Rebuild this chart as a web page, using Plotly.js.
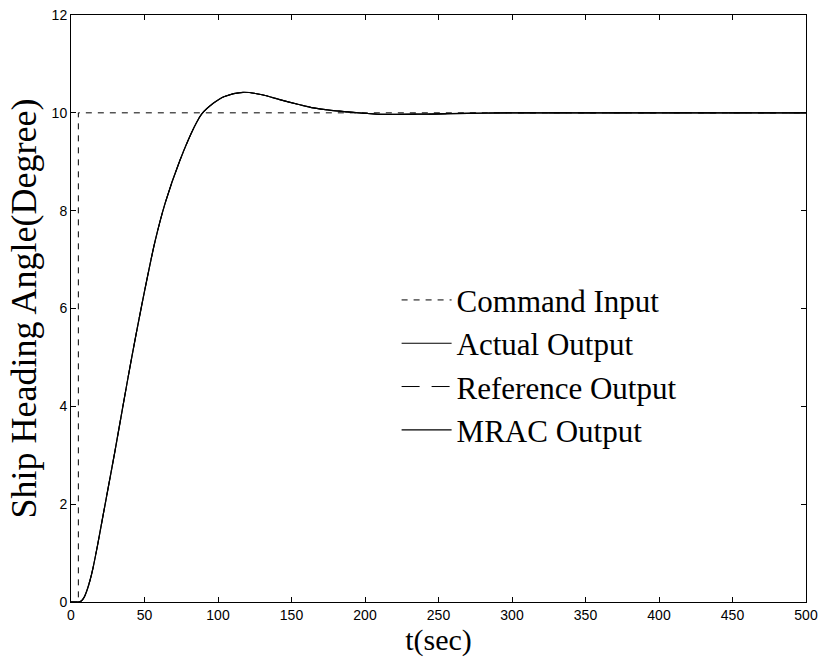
<!DOCTYPE html>
<html>
<head>
<meta charset="utf-8">
<script src="https://cdn.plot.ly/plotly-3.0.1.min.js"></script>
<style>html,body{margin:0;padding:0;background:#fff;}#chart{width:819px;height:659px;}</style>
</head>
<body>
<div id="chart"></div>
<script>
// Command input (step at t = 5 s)
const cmdT = [0, 5, 5, 500];
const cmdY = [0, 0, 10, 10];

// Response time base (s)
const respT = [0, 5, 7, 9, 11, 13, 15, 18, 22, 26, 30, 35, 41, 48, 57, 64, 74, 84, 89, 97, 104, 117, 130, 142, 155, 165, 177, 188, 200, 210, 225, 245, 270, 300, 350, 400, 450, 500];

// Actual output (deg)
const actualY = [0, 0, 0.02, 0.1, 0.25, 0.45, 0.7, 1.15, 1.8, 2.45, 3.1, 3.95, 4.95, 6.05, 7.35, 8.15, 9.02, 9.72, 9.98, 10.2, 10.33, 10.42, 10.37, 10.27, 10.17, 10.1, 10.05, 10.02, 9.99, 9.97, 9.97, 9.975, 9.99, 10.0, 10.0, 10.0, 10.0, 10.0];
// Reference model output (deg)
const referenceY = [0, 0, 0.02, 0.1, 0.25, 0.45, 0.7, 1.15, 1.8, 2.45, 3.1, 3.95, 4.95, 6.05, 7.35, 8.15, 9.02, 9.72, 9.98, 10.2, 10.33, 10.42, 10.37, 10.27, 10.17, 10.1, 10.05, 10.02, 9.99, 9.97, 9.97, 9.975, 9.99, 10.0, 10.0, 10.0, 10.0, 10.0];
// MRAC output (deg)
const mracY = [0, 0, 0.02, 0.1, 0.25, 0.45, 0.7, 1.15, 1.8, 2.45, 3.1, 3.95, 4.95, 6.05, 7.35, 8.15, 9.02, 9.72, 9.98, 10.2, 10.33, 10.42, 10.37, 10.27, 10.17, 10.1, 10.05, 10.02, 9.99, 9.97, 9.97, 9.975, 9.99, 10.0, 10.0, 10.0, 10.0, 10.0];

const xTicks = [0, 50, 100, 150, 200, 250, 300, 350, 400, 450, 500];
const yTicks = [0, 2, 4, 6, 8, 10, 12];

const traces = [
  {x: cmdT, y: cmdY, name: 'Command Input', mode: 'lines', line: {color: '#000', width: 1, dash: '6px,6px'}},
  {x: respT, y: actualY, name: 'Actual Output', mode: 'lines', line: {color: '#000', width: 1.2, shape: 'spline', smoothing: 0.8}},
  {x: respT, y: referenceY, name: 'Reference Output', mode: 'lines', line: {color: '#000', width: 1, dash: '18px,12px', shape: 'spline', smoothing: 0.8}},
  {x: respT, y: mracY, name: 'MRAC Output', mode: 'lines', line: {color: '#000', width: 1.2, shape: 'spline', smoothing: 0.8}}
];

const axisCommon = {
  showgrid: false, zeroline: false, showline: true, linecolor: '#000', linewidth: 1,
  mirror: 'ticks', ticks: 'inside', ticklen: 5, tickcolor: '#000', tickwidth: 1,
  tickfont: {family: 'Liberation Sans, Arial, sans-serif', size: 14, color: '#000'}
};

const layout = {
  width: 819, height: 659,
  margin: {l: 71, r: 13, t: 15, b: 57},
  paper_bgcolor: '#fff', plot_bgcolor: '#fff',
  showlegend: true,
  legend: {
    x: 0.443, xanchor: 'left', y: 0.56, yanchor: 'top',
    bgcolor: 'rgba(0,0,0,0)', borderwidth: 0,
    font: {family: 'Liberation Serif, Times New Roman, serif', size: 31, color: '#000'},
    itemwidth: 50, tracegroupgap: 0
  },
  xaxis: Object.assign({}, axisCommon, {
    range: [0, 500], tickvals: xTicks, ticktext: xTicks.map(String),
    title: {text: 't(sec)', font: {family: 'Liberation Serif, Times New Roman, serif', size: 30, color: '#000'}, standoff: 4}
  }),
  yaxis: Object.assign({}, axisCommon, {
    range: [0, 12], tickvals: yTicks, ticktext: yTicks.map(String),
    title: {text: 'Ship Heading Angle(Degree)', font: {family: 'Liberation Serif, Times New Roman, serif', size: 36, color: '#000'}, standoff: 4}
  })
};

Plotly.newPlot('chart', traces, layout, {displayModeBar: false, staticPlot: true});
</script>
</body>
</html>
